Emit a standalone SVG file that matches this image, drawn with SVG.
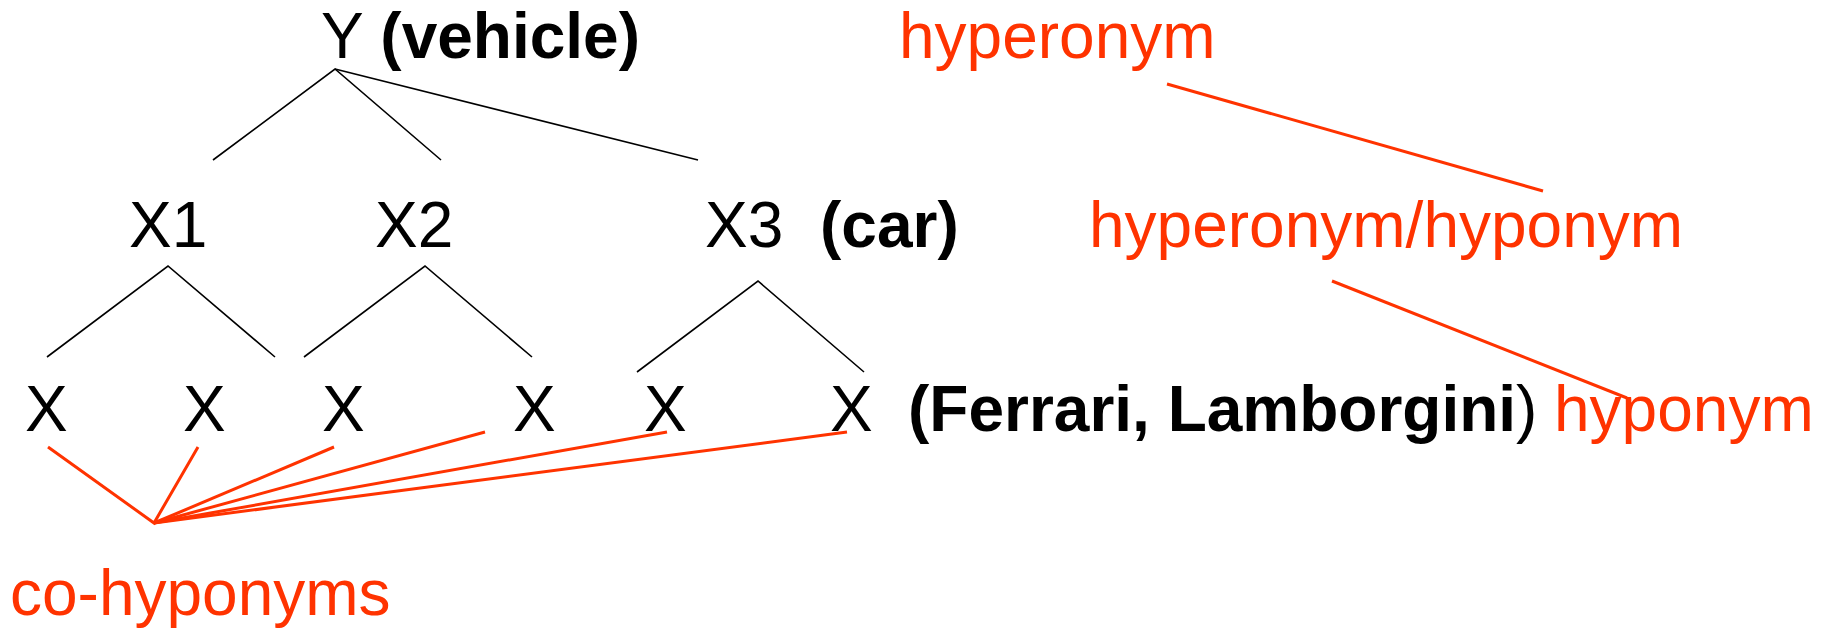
<svg xmlns="http://www.w3.org/2000/svg" width="1836" height="629" viewBox="0 0 1836 629">
  <style>
    text { font-family: "Liberation Sans", Arial, sans-serif; font-size: 64px; fill: #000; }
    .b { font-weight: bold; }
    .red { fill: #ff3300; }
    .tree { stroke: #000; stroke-width: 1.6; fill: none; }
    .rel { stroke: #ff3300; stroke-width: 3; fill: none; }
  </style>
  <rect width="1836" height="629" fill="#fff"/>

  <!-- taxonomy edges -->
  <g id="connectors">
    <g class="tree">
      <polyline points="213,160 335,69 441,160"/>
      <line x1="335" y1="69" x2="698" y2="160"/>
      <polyline points="47,357 168,266 275,357"/>
      <polyline points="304,357 425,266 532,357"/>
      <polyline points="637,372 758,281 864,372"/>
    </g>
    <g class="rel">
      <line x1="1167" y1="84" x2="1543" y2="191"/>
      <line x1="1332" y1="281" x2="1627" y2="398"/>
      <polyline points="48,447 154,523 198,447"/>
      <line x1="154" y1="523" x2="334" y2="447"/>
      <line x1="154" y1="523" x2="485" y2="432"/>
      <line x1="154" y1="523" x2="667" y2="432"/>
      <line x1="154" y1="523" x2="847" y2="432"/>
    </g>
  </g>

  <g id="node-y"><text x="321" y="58">Y <tspan class="b">(vehicle)</tspan></text></g>
  <g id="node-x1"><text x="129" y="247">X1</text></g>
  <g id="node-x2"><text x="375" y="247">X2</text></g>
  <g id="node-x3"><text x="705" y="247">X3</text><text class="b" x="820" y="247">(car)</text></g>

  <g id="leaves">
    <text x="25" y="431">X</text>
    <text x="183" y="431">X</text>
    <text x="322" y="431">X</text>
    <text x="513" y="431">X</text>
    <text x="644" y="431">X</text>
    <text x="830" y="431">X</text>
    <text x="908" y="431"><tspan class="b">(Ferrari, Lamborgini</tspan>)</text>
  </g>

  <g id="labels">
    <text class="red" x="899" y="58">hyperonym</text>
    <text class="red" x="1089" y="247">hyperonym/hyponym</text>
    <text class="red" x="1554" y="431">hyponym</text>
    <text class="red" x="10" y="615">co-hyponyms</text>
  </g>
</svg>
